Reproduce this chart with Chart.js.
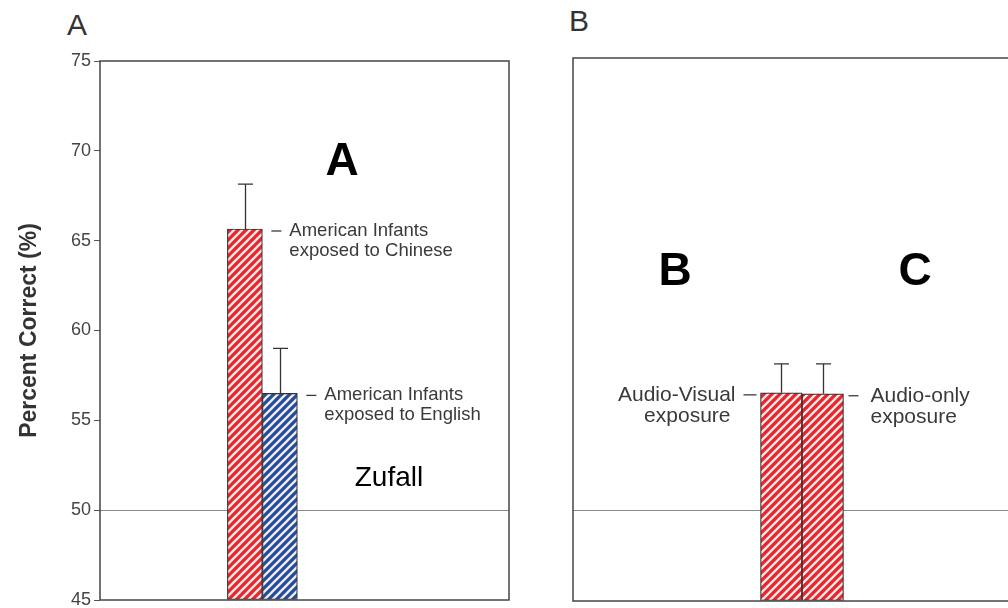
<!DOCTYPE html>
<html>
<head>
<meta charset="utf-8">
<script src="https://cdn.jsdelivr.net/npm/chart.js@4/dist/chart.umd.min.js"></script>
<style>
  html, body { margin: 0; padding: 0; background: #fff; overflow: hidden; width: 1008px; height: 608px; }
  .wrap { position: absolute; top: 0; height: 608px; }
  #wrapA { left: 0; width: 520px; }
  #wrapB { left: 530px; width: 520px; }
  .panelLetter { position: absolute; font-family: "Liberation Sans", Arial, sans-serif; font-size: 30px; color: #333; line-height: 1; }
</style>
</head>
<body>
<div class="panelLetter" style="left:67px;top:10px;">A</div>
<div class="panelLetter" style="left:569px;top:6px;">B</div>
<div class="wrap" id="wrapA"><canvas id="chartA" width="520" height="608"></canvas></div>
<div class="wrap" id="wrapB"><canvas id="chartB" width="520" height="608"></canvas></div>
<script>
// ---------- data ----------
const yTicks = [45, 50, 55, 60, 65, 70, 75];
const chanceLevel = 50;

// Panel A
const groupsA = ['American Infants exposed to Chinese', 'American Infants exposed to English'];
const valuesA = [65.65, 56.5];
const errorsA = [2.5, 2.5];
const labelsA = [['American Infants', 'exposed to Chinese'], ['American Infants', 'exposed to English']];
const groupPosA = 3.97;

// Panel B
const groupsB = ['Audio-Visual exposure', 'Audio-only exposure'];
const valuesB = [56.5, 56.45];
const errorsB = [1.6, 1.65];
const labelsB = [['Audio-Visual', 'exposure'], ['Audio-only', 'exposure']];
const groupPosB = 5;

// ---------- styles ----------
const RED = '#e8252d';
const BLUE = '#1d4f9e';
const FONT = '"Liberation Sans", Arial, Helvetica, sans-serif';

function hatch(color) {
  const s = 8;
  const c = document.createElement('canvas');
  c.width = s; c.height = s;
  const g = c.getContext('2d');
  g.fillStyle = color;
  g.fillRect(0, 0, s, s);
  g.strokeStyle = '#fbe9e6';
  g.lineWidth = 2.3;
  g.beginPath();
  g.moveTo(-2, s + 2); g.lineTo(s + 2, -2);
  g.moveTo(-2, 2); g.lineTo(2, -2);
  g.moveTo(s - 2, s + 2); g.lineTo(s + 2, s - 2);
  g.stroke();
  return g.createPattern(c, 'repeat');
}

const framePlugin = {
  id: 'frame',
  afterDraw(chart) {
    const {ctx, chartArea: a} = chart;
    ctx.save();
    ctx.strokeStyle = '#444';
    ctx.lineWidth = 1.5;
    ctx.strokeRect(a.left, a.top, a.right - a.left, a.bottom - a.top);
    ctx.restore();
  }
};

const errorPlugin = {
  id: 'errbars',
  afterDatasetsDraw(chart) {
    const {ctx} = chart;
    const ys = chart.scales.y;
    ctx.save();
    ctx.strokeStyle = '#333';
    ctx.lineWidth = 1.3;
    chart.data.datasets.forEach((ds, i) => {
      const meta = chart.getDatasetMeta(i);
      meta.data.forEach((bar, j) => {
        const v = ds.data[j].y;
        const e = ds.errors[j];
        const yTop = ys.getPixelForValue(v + e);
        const x = Math.round(bar.x) + 0.5;
        ctx.beginPath();
        ctx.moveTo(x, bar.y);
        ctx.lineTo(x, yTop);
        ctx.moveTo(x - 7.5, yTop);
        ctx.lineTo(x + 7.5, yTop);
        ctx.stroke();
      });
    });
    ctx.restore();
  }
};

// labels beside bars
const barLabelPlugin = {
  id: 'barLabels',
  afterDatasetsDraw(chart, args, opts) {
    const {ctx} = chart;
    ctx.save();
    ctx.font = opts.size + 'px ' + FONT;
    ctx.fillStyle = '#3a3a3a';
    ctx.strokeStyle = '#3a3a3a';
    ctx.lineWidth = 1.3;
    ctx.textBaseline = 'middle';
    chart.data.datasets.forEach((ds, i) => {
      const bar = chart.getDatasetMeta(i).data[0];
      const side = ds.labelSide;
      const lines = ds.labelLines;
      const half = bar.width / 2;
      const y = bar.y + 2;
      if (side === 'right') {
        const x0 = bar.x + half;
        ctx.beginPath(); ctx.moveTo(x0 + opts.dashGap, y); ctx.lineTo(x0 + opts.dashGap + 10, y); ctx.stroke();
        ctx.textAlign = 'left';
        lines.forEach((t, k) => ctx.fillText(t, x0 + opts.textGap, y + k * opts.lineH));
      } else {
        const x0 = bar.x - half;
        ctx.beginPath(); ctx.moveTo(x0 - 4, y); ctx.lineTo(x0 - 17, y); ctx.stroke();
        ctx.textAlign = 'right';
        lines.forEach((t, k) => ctx.fillText(t, x0 - 25 - k * 5, y + k * opts.lineH));
      }
    });
    ctx.restore();
  }
};

const textPlugin = {
  id: 'freeText',
  afterDraw(chart, args, opts) {
    const {ctx} = chart;
    ctx.save();
    (opts.items || []).forEach(it => {
      ctx.font = it.font;
      ctx.fillStyle = it.color || '#000';
      ctx.textAlign = 'center';
      ctx.textBaseline = 'alphabetic';
      ctx.fillText(it.text, it.x, it.y);
    });
    ctx.restore();
  }
};

function gridColor(c) {
  return c.tick && c.tick.value === chanceLevel ? '#8a8a8a' : 'rgba(0,0,0,0)';
}

function makeDatasets(groups, values, errors, labels, pos, colors, sides, thickness) {
  return groups.map((g, i) => ({
    label: g,
    data: [{x: pos, y: values[i]}],
    errors: [errors[i]],
    labelLines: labels[i],
    labelSide: sides[i],
    backgroundColor: hatch(colors[i]),
    borderColor: '#333',
    borderWidth: 1.2,
    borderSkipped: false,
    barThickness: thickness,
    base: 45
  }));
}

Chart.defaults.font.family = FONT;
Chart.defaults.animation = false;

// ---------- Panel A ----------
new Chart(document.getElementById('chartA'), {
  type: 'bar',
  data: { datasets: makeDatasets(groupsA, valuesA, errorsA, labelsA, groupPosA, [RED, BLUE], ['right', 'right'], 35) },
  options: {
    responsive: false,
    animation: false,
    layout: { padding: { top: 61, bottom: 8, left: 0, right: 11 } },
    plugins: {
      legend: { display: false },
      tooltip: { enabled: false },
      barLabels: { size: 18.5, dashGap: 9, textGap: 27, lineH: 20 },
      freeText: { items: [
        { text: 'A', x: 342, y: 175, font: 'bold 46px ' + FONT, color: '#000' },
        { text: 'Zufall', x: 389, y: 486, font: '28px ' + FONT, color: '#000' }
      ] }
    },
    scales: {
      x: { type: 'linear', min: 0, max: 10, display: false, offset: false },
      y: {
        min: 45, max: 75,
        afterBuildTicks(s) { s.ticks = yTicks.map(v => ({value: v})); },
        afterFit(s) { s.width = 100; s.paddingBottom = 0; s.paddingTop = 0; },
        ticks: { color: '#444', font: { size: 18 }, padding: 3 },
        grid: { color: gridColor, tickColor: '#555', tickLength: 6, lineWidth: 1 },
        border: { display: false },
        title: { display: true, text: 'Percent Correct (%)', color: '#333', font: { size: 23, weight: 'bold' }, padding: { top: 16 } }
      }
    }
  },
  plugins: [framePlugin, errorPlugin, barLabelPlugin, textPlugin]
});

// ---------- Panel B ----------
new Chart(document.getElementById('chartB'), {
  type: 'bar',
  data: { datasets: makeDatasets(groupsB, valuesB, errorsB, labelsB, groupPosB, [RED, RED], ['left', 'right'], 41.5) },
  options: {
    responsive: false,
    animation: false,
    layout: { padding: { top: 58, bottom: 7, left: 0, right: 19 } },
    plugins: {
      legend: { display: false },
      tooltip: { enabled: false },
      barLabels: { size: 21, dashGap: 5, textGap: 27, lineH: 21 },
      freeText: { items: [
        { text: 'B', x: 675 - 530, y: 285, font: 'bold 46px ' + FONT, color: '#000' },
        { text: 'C', x: 915 - 530, y: 285, font: 'bold 46px ' + FONT, color: '#000' }
      ] }
    },
    scales: {
      x: { type: 'linear', min: 0, max: 10, display: false, offset: false },
      y: {
        min: 45, max: 75,
        afterBuildTicks(s) { s.ticks = yTicks.map(v => ({value: v})); },
        afterFit(s) { s.width = 43; s.paddingBottom = 0; s.paddingTop = 0; },
        ticks: { display: false },
        grid: { color: gridColor, drawTicks: false, lineWidth: 1 },
        border: { display: false }
      }
    }
  },
  plugins: [framePlugin, errorPlugin, barLabelPlugin, textPlugin]
});
</script>
</body>
</html>
